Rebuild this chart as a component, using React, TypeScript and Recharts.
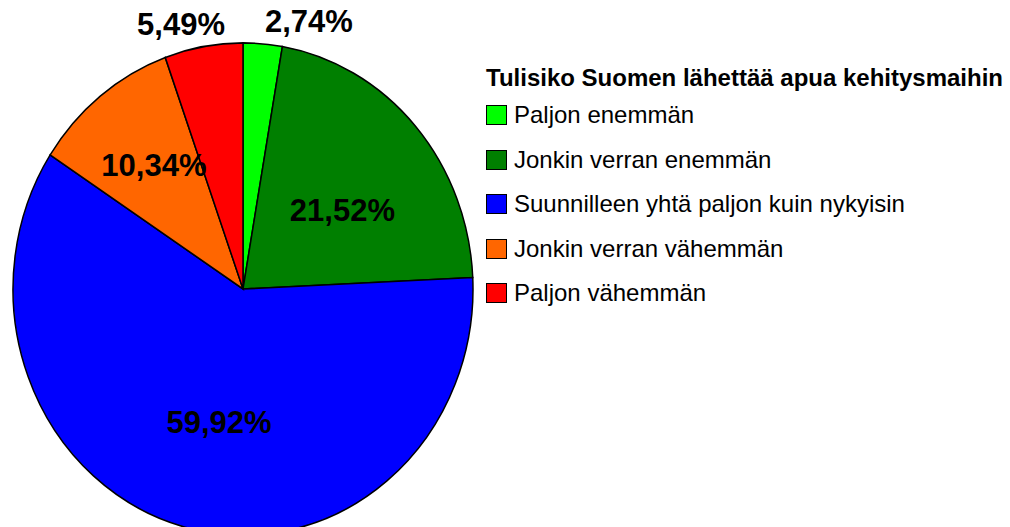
import React from 'react';
import { PieChart, Pie, Cell, Legend } from 'recharts';

const answers = [
  'Paljon enemmän',
  'Jonkin verran enemmän',
  'Suunnilleen yhtä paljon kuin nykyisin',
  'Jonkin verran vähemmän',
  'Paljon vähemmän',
];
const shares = [2.74, 21.52, 59.92, 10.34, 5.49];
const colors = ['#00ff00', '#007f00', '#0000ff', '#ff6600', '#ff0000'];
const legendTitle = 'Tulisiko Suomen lähettää apua kehitysmaihin';

const data = answers.map((name, i) => ({ name, value: shares[i] }));

const CX = 243;
const CY = 289;
const R = 230;
const STRETCH = 1.07; // pie is drawn slightly taller than wide
const RAD = Math.PI / 180;

const fmt = (v: number) => v.toFixed(2).replace('.', ',') + '%';

const renderLabel = (props: any) => {
  const { cx, cy, midAngle, outerRadius, value } = props;
  const cos = Math.cos(midAngle * RAD);
  const sin = Math.sin(midAngle * RAD);
  const style = { fontFamily: 'Liberation Sans, Arial, sans-serif', fontWeight: 700, fontSize: 31 };
  if (value < 8) {
    // small slices: label above the pie, beside the top
    const y = cy - (outerRadius * STRETCH + 22) * sin;
    const x = cos > 0 ? cx + 22 : cx - 18;
    return (
      <text x={x} y={y} textAnchor={cos > 0 ? 'start' : 'end'} dominantBaseline="central" fill="#000" style={style}>
        {fmt(value)}
      </text>
    );
  }
  const r = outerRadius * (value > 15 ? 0.53 : 0.68);
  return (
    <text
      x={cx + r * cos + 8}
      y={cy - r * sin * STRETCH + 8}
      textAnchor="middle"
      dominantBaseline="central"
      fill="#000"
      style={style}
    >
      {fmt(value)}
    </text>
  );
};

// legend keeps the data order (recharts would sort it otherwise)
const LegendBox = () => (
  <div style={{ fontFamily: 'Liberation Sans, Arial, sans-serif', color: '#000', textAlign: 'left' }}>
    <div style={{ fontWeight: 700, fontSize: 24, lineHeight: '24px', whiteSpace: 'nowrap' }}>{legendTitle}</div>
    <div style={{ marginTop: 3 }}>
      {answers.map((name, i) => (
        <div key={name} style={{ display: 'flex', alignItems: 'center', height: 44.5 }}>
          <div
            style={{
              width: 19,
              height: 18,
              background: colors[i],
              border: '1.5px solid #000',
              marginRight: 7,
              flexShrink: 0,
            }}
          />
          <span style={{ fontSize: 24, lineHeight: '24px', whiteSpace: 'nowrap' }}>{name}</span>
        </div>
      ))}
    </div>
  </div>
);

export default function App() {
  return (
    <div style={{ position: 'absolute', left: 0, top: 0, width: 1010, height: 527, background: '#fff', overflow: 'hidden' }}>
      <style>{`path.recharts-sector { transform-origin: ${CX}px ${CY}px; transform: scaleY(${STRETCH}); }`}</style>
      <PieChart width={1010} height={527} margin={{ top: 0, right: 0, bottom: 0, left: 0 }}>
        <Pie
          data={data}
          dataKey="value"
          nameKey="name"
          cx={CX}
          cy={CY}
          outerRadius={R}
          startAngle={90}
          endAngle={-270}
          stroke="#000"
          strokeWidth={1.5}
          label={renderLabel}
          labelLine={false}
          isAnimationActive={false}
        >
          {data.map((d, i) => (
            <Cell key={d.name} fill={colors[i]} />
          ))}
        </Pie>
        <Legend
          content={<LegendBox />}
          layout="vertical"
          verticalAlign="top"
          align="right"
          wrapperStyle={{ position: 'absolute', left: 486, top: 66, width: 524, right: 'auto' }}
        />
      </PieChart>
    </div>
  );
}
